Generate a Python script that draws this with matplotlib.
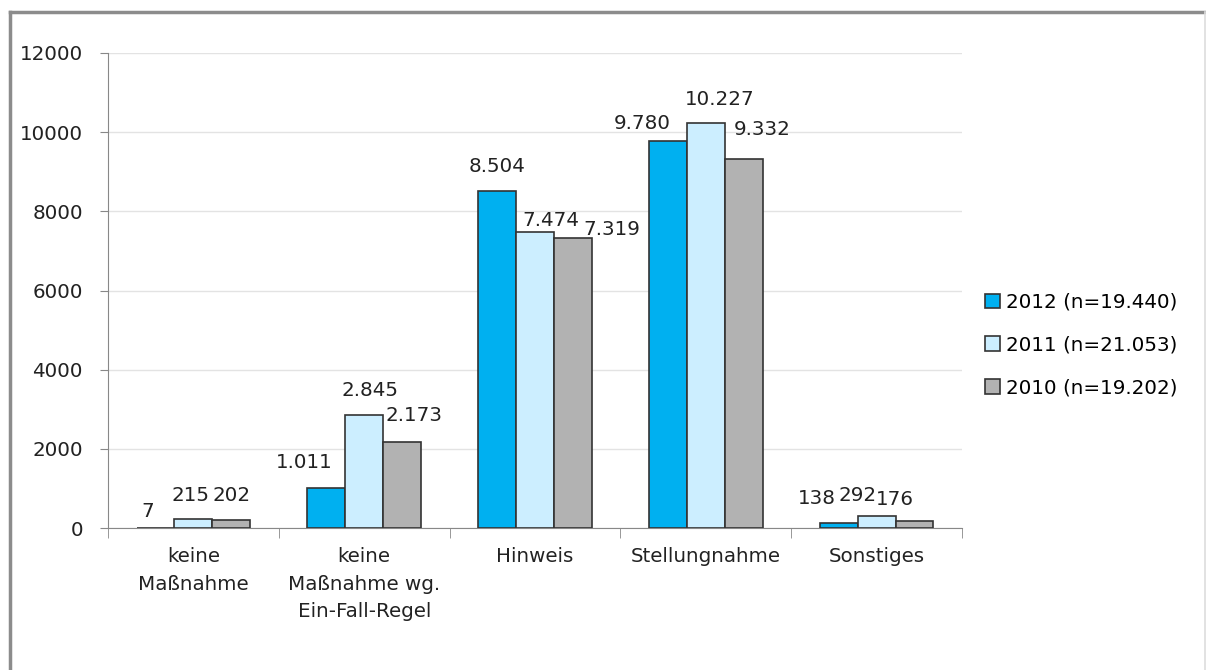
import matplotlib.pyplot as plt
from matplotlib.lines import Line2D
import numpy as np

# Kategorien und Werte
categories = ['keine\nMaßnahme', 'keine\nMaßnahme wg.\nEin-Fall-Regel', 'Hinweis',
              'Stellungnahme', 'Sonstiges']
series_names = ['2012 (n=19.440)', '2011 (n=21.053)', '2010 (n=19.202)']
values_2012 = [7, 1011, 8504, 9780, 138]
values_2011 = [215, 2845, 7474, 10227, 292]
values_2010 = [202, 2173, 7319, 9332, 176]
value_labels_2012 = ['7', '1.011', '8.504', '9.780', '138']
value_labels_2011 = ['215', '2.845', '7.474', '10.227', '292']
value_labels_2010 = ['202', '2.173', '7.319', '9.332', '176']
yticks = [0, 2000, 4000, 6000, 8000, 10000, 12000]

colors = ['#00b0f0', '#cceeff', '#b2b2b2']

# Verschiebung der Datenbeschriftungen (Pixel), wie im Original von Hand gesetzt
label_shift = [
    [(-8, 16), (-22, 25), (0, 25), (-26, 17), (-22, 24)],
    [(-3, 24), (6, 25), (16, 12), (14, 24), (-19, 21)],
    [(0, 25), (12, 26), (39, 9), (18, 29), (-20, 22)],
]

FS = 14.3

plt.rcParams['font.family'] = ['DejaVu Sans']
fig = plt.figure(figsize=(12.06, 6.70), dpi=100)
ax = fig.add_axes([108 / 1206, 142 / 670, 854 / 1206, 475 / 670])

# Rahmen um das ganze Bild
fig.add_artist(Line2D([9.5 / 1206, 9.5 / 1206], [0, 1 - 11.5 / 670], color='#8c8c8c', lw=2.5))
fig.add_artist(Line2D([9.5 / 1206, 1], [1 - 11.5 / 670, 1 - 11.5 / 670], color='#8c8c8c', lw=2.5))
fig.add_artist(Line2D([1204.5 / 1206, 1204.5 / 1206], [0, 1 - 11.5 / 670], color='#dddddd', lw=1.2))

x = np.arange(len(categories))
w = 0.222
all_values = [values_2012, values_2011, values_2010]
all_labels = [value_labels_2012, value_labels_2011, value_labels_2010]
for i, (vals, labs) in enumerate(zip(all_values, all_labels)):
    pos = x + (i - 1) * w
    ax.bar(pos, vals, w, color=colors[i], edgecolor='#333333', linewidth=1.2,
           label=series_names[i], zorder=3)
    for j, (p, v, t) in enumerate(zip(pos, vals, labs)):
        dx, dy = label_shift[i][j]
        ax.annotate(t, (p, v), xytext=(dx * 0.72, dy * 0.72), textcoords='offset points',
                    ha='center', va='center', fontsize=FS, color='#222222')

ax.set_xlim(-0.5, len(categories) - 0.5)
ax.set_ylim(0, 12000)
ax.set_yticks(yticks)
ax.set_yticklabels([str(t) for t in yticks], fontsize=FS, color='#222222')
ax.set_xticks(x)
ax.set_xticklabels(categories, fontsize=FS, color='#222222', va='top', linespacing=1.55)
ax.set_xticks(np.arange(-0.5, len(categories)), minor=True)
ax.tick_params(axis='x', which='major', length=0, pad=14)
ax.tick_params(axis='x', which='minor', length=7, color='#888888', direction='out')
ax.tick_params(axis='y', length=6, color='#888888', pad=12)

ax.grid(axis='y', color='#e3e3e3', lw=1, zorder=0)
for s in ['top', 'right']:
    ax.spines[s].set_visible(False)
ax.spines['left'].set_color('#888888')
ax.spines['bottom'].set_color('#888888')

ax.legend(loc='center left', bbox_to_anchor=(1.018, 0.385), frameon=False, fontsize=FS,
          handlelength=0.75, handleheight=0.75, handletextpad=0.3, labelspacing=1.2,
          borderaxespad=0)

fig.savefig('out.png', dpi=100)
